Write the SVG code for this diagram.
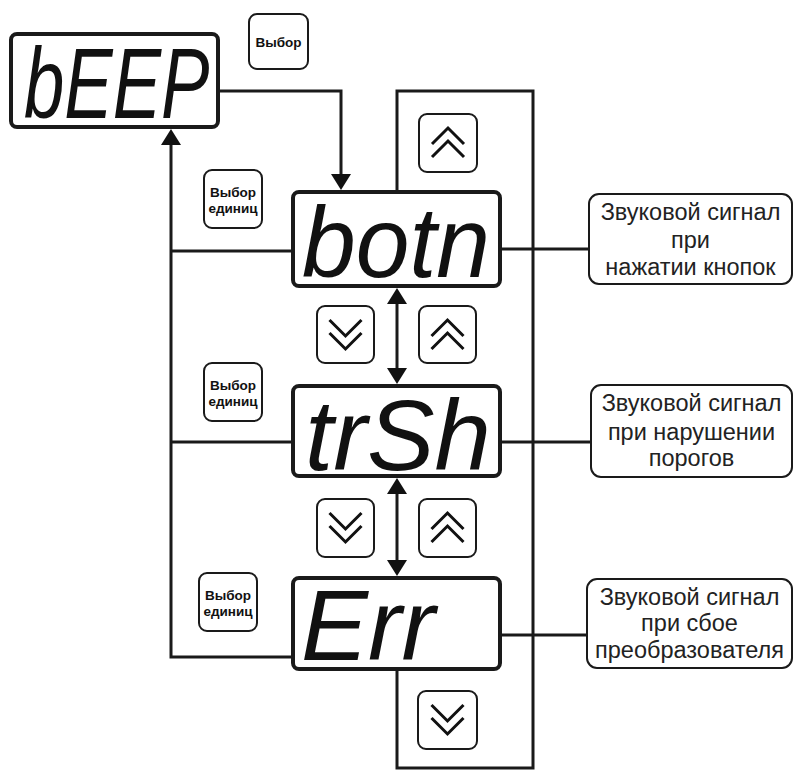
<svg xmlns="http://www.w3.org/2000/svg" width="794" height="771" viewBox="0 0 794 771">
<defs>
<style>
.disp{fill:#fff;stroke:#1a1a1a;stroke-width:4}
.seg{font-family:"Liberation Sans",Arial,sans-serif;font-style:italic;font-size:100px;fill:#111}
.btn{fill:#fff;stroke:#1a1a1a;stroke-width:2}
.btxt{font-family:"Liberation Sans",Arial,sans-serif;font-weight:bold;font-size:13.5px;fill:#111;text-anchor:middle}
.chev{fill:none;stroke:#111;stroke-width:3}
.lbl{fill:#fff;stroke:#1a1a1a;stroke-width:2}
.ltxt{font-family:"Liberation Sans",Arial,sans-serif;font-size:23.5px;fill:#222;text-anchor:middle}
.con{fill:none;stroke:#1a1a1a;stroke-width:3}
</style>
<marker id="arr" viewBox="0 0 16 20" refX="8" refY="10" markerWidth="16" markerHeight="20" orient="auto" markerUnits="userSpaceOnUse">
<path d="M0,0 L16,10 L0,20 z" fill="#111"/>
</marker>
<marker id="arrs" viewBox="0 0 16 20" refX="8" refY="10" markerWidth="16" markerHeight="20" orient="auto-start-reverse" markerUnits="userSpaceOnUse">
<path d="M0,0 L16,10 L0,20 z" fill="#111"/>
</marker>
<path id="up" d="M-16,8 L0,-8 L16,8 M-16,21 L0,5 L16,21"/>
<path id="dn" d="M-16,-21 L0,-5 L16,-21 M-16,-8 L0,8 L16,-8"/>
</defs>
<rect width="794" height="771" fill="#fff"/>

<g id="connectors">
<path class="con" d="M218,91 H341 V182" marker-end="url(#arr)"/>
<path class="con" d="M293,657 H171 V137" marker-end="url(#arr)"/>
<path class="con" d="M293,251 H171"/>
<path class="con" d="M293,442 H171"/>
<path class="con" d="M397,669 V768 H533 V91 H397 V192"/>
<path class="con" d="M397,296 V376" marker-start="url(#arrs)" marker-end="url(#arr)"/>
<path class="con" d="M397,486 V568" marker-start="url(#arrs)" marker-end="url(#arr)"/>
<path class="con" d="M500,249 H589"/>
<path class="con" d="M500,442 H591"/>
<path class="con" d="M500,635 H587"/>
</g>

<g id="disp-bEEP">
<rect class="disp" x="11" y="34" width="207" height="93" rx="6"/>
<text class="seg" style="font-size:72.5px" transform="translate(24,118) scale(1,1.38)" x="0" y="0">bEEP</text>
</g>
<g id="disp-botn">
<rect class="disp" x="293" y="192" width="207" height="94" rx="6"/>
<text class="seg" x="302" y="277" textLength="188" lengthAdjust="spacingAndGlyphs">botn</text>
</g>
<g id="disp-trSh">
<rect class="disp" x="293" y="386" width="207" height="90" rx="6"/>
<text class="seg" x="305" y="470" textLength="186" lengthAdjust="spacingAndGlyphs">trSh</text>
</g>
<g id="disp-Err">
<rect class="disp" x="293" y="578" width="207" height="91" rx="6"/>
<text class="seg" x="301" y="660" textLength="134" lengthAdjust="spacingAndGlyphs">Err</text>
</g>

<g id="btn-vybor">
<rect class="btn" x="249" y="14" width="59" height="55" rx="8"/>
<text class="btxt" x="278.5" y="47">Выбор</text>
</g>
<g id="btn-units-1">
<rect class="btn" x="204" y="170" width="58" height="58" rx="8"/>
<text class="btxt" x="233" y="197">Выбор</text>
<text class="btxt" x="233" y="213">единиц</text>
</g>
<g id="btn-units-2">
<rect class="btn" x="204" y="363" width="58" height="58" rx="8"/>
<text class="btxt" x="233" y="390">Выбор</text>
<text class="btxt" x="233" y="406">единиц</text>
</g>
<g id="btn-units-3">
<rect class="btn" x="199" y="573" width="58" height="58" rx="8"/>
<text class="btxt" x="228" y="600">Выбор</text>
<text class="btxt" x="228" y="616">единиц</text>
</g>

<g id="btn-up-1">
<rect class="btn" x="419" y="114" width="58" height="58" rx="8"/>
<use href="#up" class="chev" x="448" y="136"/>
</g>
<g id="btn-down-2">
<rect class="btn" x="317" y="306" width="57" height="57" rx="8"/>
<use href="#dn" class="chev" x="345.5" y="341"/>
</g>
<g id="btn-up-2">
<rect class="btn" x="419" y="306" width="57" height="57" rx="8"/>
<use href="#up" class="chev" x="447.5" y="328"/>
</g>
<g id="btn-down-3">
<rect class="btn" x="317" y="499" width="57" height="58" rx="8"/>
<use href="#dn" class="chev" x="345.5" y="534"/>
</g>
<g id="btn-up-3">
<rect class="btn" x="419" y="499" width="57" height="58" rx="8"/>
<use href="#up" class="chev" x="447.5" y="521"/>
</g>
<g id="btn-down-4">
<rect class="btn" x="418" y="691" width="59" height="58" rx="8"/>
<use href="#dn" class="chev" x="447.5" y="726"/>
</g>

<g id="label-1">
<rect class="lbl" x="589" y="194" width="203" height="90" rx="10"/>
<text class="ltxt" x="690.5" y="220">Звуковой сигнал</text>
<text class="ltxt" x="690.5" y="248">при</text>
<text class="ltxt" x="690.5" y="275">нажатии кнопок</text>
</g>
<g id="label-2">
<rect class="lbl" x="591" y="385" width="201" height="92" rx="10"/>
<text class="ltxt" x="691.5" y="411">Звуковой сигнал</text>
<text class="ltxt" x="691.5" y="440">при нарушении</text>
<text class="ltxt" x="691.5" y="466">порогов</text>
</g>
<g id="label-3">
<rect class="lbl" x="587" y="579" width="205" height="89" rx="10"/>
<text class="ltxt" x="689.5" y="605">Звуковой сигнал</text>
<text class="ltxt" x="689.5" y="631">при сбое</text>
<text class="ltxt" x="689.5" y="658">преобразователя</text>
</g>
</svg>
